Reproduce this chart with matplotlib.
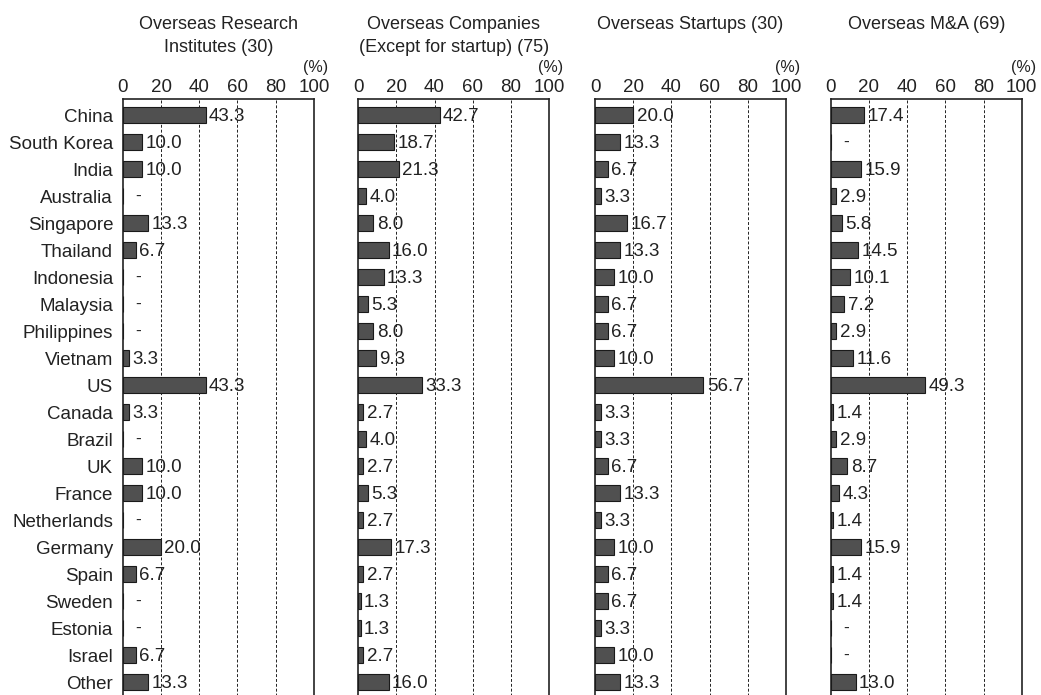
import numpy as np
import matplotlib.pyplot as plt

plt.rcParams['font.family'] = ['Liberation Sans', 'DejaVu Sans']

countries = ['China', 'South Korea', 'India', 'Australia', 'Singapore', 'Thailand',
             'Indonesia', 'Malaysia', 'Philippines', 'Vietnam', 'US', 'Canada',
             'Brazil', 'UK', 'France', 'Netherlands', 'Germany', 'Spain', 'Sweden',
             'Estonia', 'Israel', 'Other']

titles = ['Overseas Research\nInstitutes (30)',
          'Overseas Companies\n(Except for startup) (75)',
          'Overseas Startups (30)',
          'Overseas M&A (69)']

research = [43.3, 10.0, 10.0, 0, 13.3, 6.7, 0, 0, 0, 3.3, 43.3, 3.3,
            0, 10.0, 10.0, 0, 20.0, 6.7, 0, 0, 6.7, 13.3]
companies = [42.7, 18.7, 21.3, 4.0, 8.0, 16.0, 13.3, 5.3, 8.0, 9.3, 33.3, 2.7,
             4.0, 2.7, 5.3, 2.7, 17.3, 2.7, 1.3, 1.3, 2.7, 16.0]
startups = [20.0, 13.3, 6.7, 3.3, 16.7, 13.3, 10.0, 6.7, 6.7, 10.0, 56.7, 3.3,
            3.3, 6.7, 13.3, 3.3, 10.0, 6.7, 6.7, 3.3, 10.0, 13.3]
mna = [17.4, 0, 15.9, 2.9, 5.8, 14.5, 10.1, 7.2, 2.9, 11.6, 49.3, 1.4,
       2.9, 8.7, 4.3, 1.4, 15.9, 1.4, 1.4, 0, 0, 13.0]

series = [research, companies, startups, mna]

fig = plt.figure(figsize=(10.41, 6.95), dpi=100)
lefts = [0.118, 0.344, 0.5716, 0.798]
y = np.arange(len(countries))

for i, (left, vals, title) in enumerate(zip(lefts, series, titles)):
    ax = fig.add_axes([left, -0.005, 0.1835, 0.8625])
    vals = np.array(vals)
    ax.barh(y, vals, height=0.6, color='#505050', edgecolor='#1a1a1a', linewidth=0.8, zorder=3)
    # zero entries get a dash instead of a number
    for yy, v in zip(y, vals):
        if v == 0:
            ax.text(8, yy, '-', ha='center', va='center', fontsize=12.5, color='#222222')
        else:
            ax.text(v + 1.8, yy + 0.06, f'{v:.1f}', ha='left', va='center', fontsize=13.5,
                    color='#222222', zorder=4)
    ax.set_xlim(0, 100)
    ax.set_ylim(21.6, -0.6)
    ax.set_xticks([0, 20, 40, 60, 80, 100])
    ax.xaxis.tick_top()
    ax.tick_params(axis='x', length=0, labelsize=13.5, pad=2, colors='#222222')
    for gx in [20, 40, 60, 80]:
        ax.axvline(gx, color='#222222', linestyle=(0, (3, 2)), linewidth=0.7, zorder=1)
    if i == 0:
        ax.set_yticks(y)
        ax.set_yticklabels(countries, fontsize=13.5, color='#222222')
        ax.tick_params(axis='y', length=0, pad=7)
    else:
        ax.set_yticks([])
    for s in ax.spines.values():
        s.set_color('#222222')
        s.set_linewidth(1.2)
    ax.text(1.075, 1.04, '(%)', transform=ax.transAxes, ha='right', va='bottom',
            fontsize=11.5, color='#222222')
    ax.text(0.5, 1.138, title, transform=ax.transAxes, ha='center', va='top',
            fontsize=13, color='#222222', linespacing=1.45)

fig.savefig('out.png', dpi=100)
